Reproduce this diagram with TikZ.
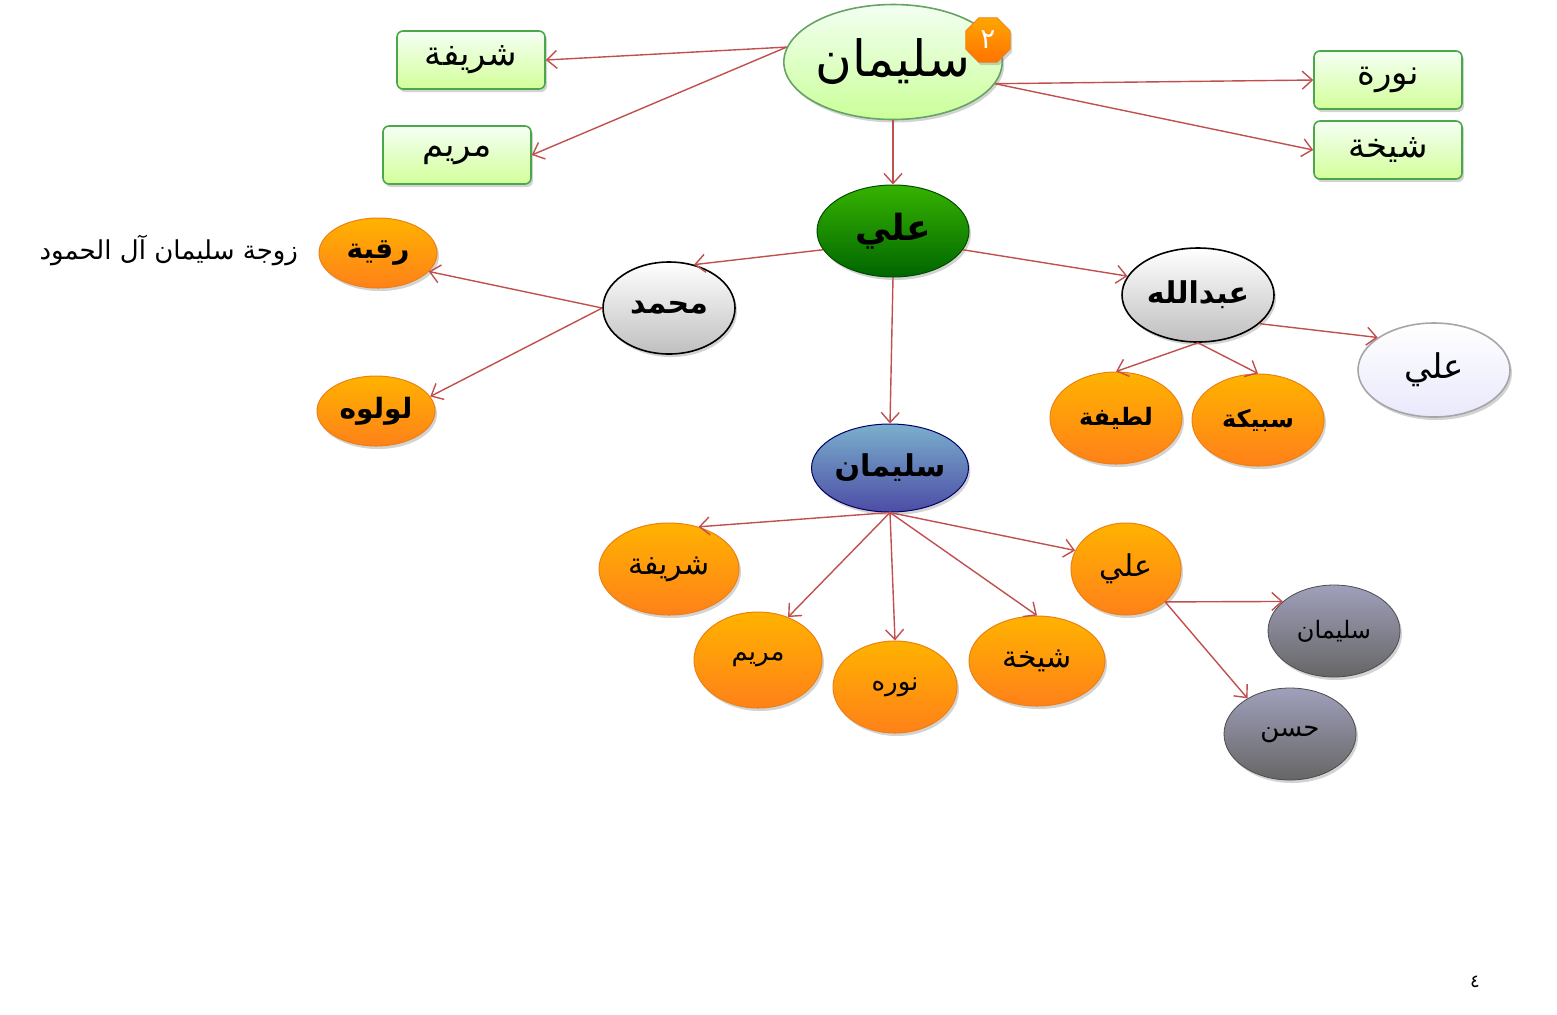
\documentclass[tikz,border=0pt]{standalone}
\usepackage{fontspec}
\newfontfamily\ar[Script=Arabic]{DejaVu Sans}
\TeXXeTstate=1
\usetikzlibrary{shapes.geometric,shadows,arrows.meta}
\definecolor{edge}{RGB}{192,80,77}
\tikzset{
 x=0.5pt,y=-0.5pt,
 base/.style={inner sep=0pt,font=\ar,drop shadow={opacity=0.35,shadow xshift=1pt,shadow yshift=-1.5pt}},
 ell/.style 2 args={base,ellipse,minimum width=#1*0.5pt,minimum height=#2*0.5pt},
 rbox/.style={base,rectangle,rounded corners=3pt,draw=green!50!black!70,line width=0.8pt,minimum width=74pt,minimum height=29pt,top color=green!4,bottom color=green!25!lime!40,font=\ar\fontsize{17}{20}\selectfont},
 orange/.style={draw=orange!70!brown,line width=0.5pt,top color=orange!60!yellow,bottom color=orange!90!red!90,font=\ar\fontsize{13}{15}\selectfont},
 grayn/.style={draw=black,line width=0.8pt,top color=white,bottom color=gray!50,font=\ar\bfseries\fontsize{15}{17}\selectfont},
 slate/.style={draw=gray!60!black,top color=gray!55!blue!30!white!80!black,bottom color=gray!80!black,font=\ar\fontsize{12}{14}\selectfont},
 arr/.style={draw=edge,line width=0.7pt,-{Straight Barb[length=5pt,width=9pt]}}
}
\newcommand{\A}[1]{\beginR #1\endR}
\begin{document}
\begin{tikzpicture}
\useasboundingbox (0,0) rectangle (1557,1014);
% top
\node[ell={198}{115},draw=green!40!black!60,line width=0.8pt,top color=green!5,bottom color=green!35!lime!40,font=\ar\fontsize{25}{28}\selectfont] (s1) at (893,62) {\A{سليمان}};
\node[base,regular polygon,regular polygon sides=8,minimum size=24pt,draw=orange!60!brown,top color=orange!70!yellow,bottom color=orange!90!red,text=white,font=\ar\fontsize{14}{16}\selectfont] (badge) at (988,40) {\A{٢}};
\node[rbox] (sh1) at (471,60) {\A{شريفة}};
\node[rbox] (m1) at (457,155) {\A{مريم}};
\node[rbox] (n1) at (1388,80) {\A{نورة}};
\node[rbox] (sk1) at (1388,150) {\A{شيخة}};
% level 2
\node[ell={152}{92},draw=green!30!black,line width=0.5pt,top color=green!60!lime!70!black,bottom color=green!40!black,font=\ar\bfseries\fontsize{18}{20}\selectfont] (ali) at (893,231) {\A{علي}};
\node[ell={132}{92},grayn] (mu) at (669,308) {\A{محمد}};
\node[ell={152}{94},grayn] (ab) at (1198,295) {\A{عبدالله}};
\node[ell={152}{94},draw=gray!70,line width=0.8pt,top color=white,bottom color=gray!25!blue!10,font=\ar\fontsize{17}{19}\selectfont] (ali2) at (1434,370) {\A{علي}};
\node[ell={118}{70},orange,font=\ar\bfseries\fontsize{14}{16}\selectfont] (ru) at (378,253) {\A{رقية}};
\node[font=\ar\fontsize{13}{15}\selectfont,anchor=east] (lab) at (305,250) {\A{زوجة سليمان آل الحمود}};
\node[ell={118}{70},orange,font=\ar\bfseries\fontsize{14}{16}\selectfont] (lu) at (376,411) {\A{لولوه}};
\node[ell={132}{92},orange,font=\ar\bfseries\fontsize{12}{14}\selectfont] (la) at (1116,418) {\A{لطيفة}};
\node[ell={132}{92},orange,font=\ar\bfseries\fontsize{12}{14}\selectfont] (sa) at (1258,420) {\A{سبيكة}};
\node[ell={154}{88},draw=blue!40!black,line width=0.5pt,top color=blue!35!cyan!40!white!80!black,bottom color=blue!50!black!70,font=\ar\bfseries\fontsize{15}{17}\selectfont] (s2) at (890,468) {\A{سليمان}};
% level 3
\node[ell={140}{92},orange,font=\ar\fontsize{15}{17}\selectfont] (sh2) at (669,569) {\A{شريفة}};
\node[ell={128}{96},orange] (m2) at (758,660) {\A{مريم}};
\node[ell={124}{92},orange] (n2) at (895,687) {\A{نوره}};
\node[ell={136}{90},orange,font=\ar\fontsize{15}{17}\selectfont] (sk2) at (1037,661) {\A{شيخة}};
\node[ell={110}{92},orange,font=\ar\fontsize{15}{17}\selectfont] (a3) at (1126,569) {\A{علي}};
\node[ell={132}{92},slate] (s3) at (1334,631) {\A{سليمان}};
\node[ell={132}{92},slate,font=\ar\fontsize{13}{15}\selectfont] (h) at (1290,734) {\A{حسن}};
\node[font=\ar\fontsize{9}{11}\selectfont] (pg) at (1475,982) {\A{٤}};
% edges
\draw[arr] (s1.172) -- (sh1.east);
\draw[arr] (s1.172) -- (m1.east);
\draw[arr] (s1.-12) -- (n1.west);
\draw[arr] (s1.-12) -- (sk1.west);
\draw[arr] (s1.south) -- (ali.north);
\draw[arr] (ali.195) -- (mu.60);
\draw[arr] (ali.-15) -- (ab.165);
\draw[arr] (ali.south) -- (s2.north);
\draw[arr] (mu.west) -- (ru.-20);
\draw[arr] (mu.west) -- (lu.15);
\draw[arr] (ab.-25) -- (ali2.150);
\draw[arr] (ab.south) -- (la.north);
\draw[arr] (ab.south) -- (sa.north);
\draw[arr] (s2.south) -- (sh2.55);
\draw[arr] (s2.south) -- (m2.55);
\draw[arr] (s2.south) -- (n2.north);
\draw[arr] (s2.south) -- (sk2.north);
\draw[arr] (s2.south) -- (a3.160);
\draw[arr] (a3.-40) -- (s3.150);
\draw[arr] (a3.-40) -- (h.140);
\end{tikzpicture}
\end{document}
